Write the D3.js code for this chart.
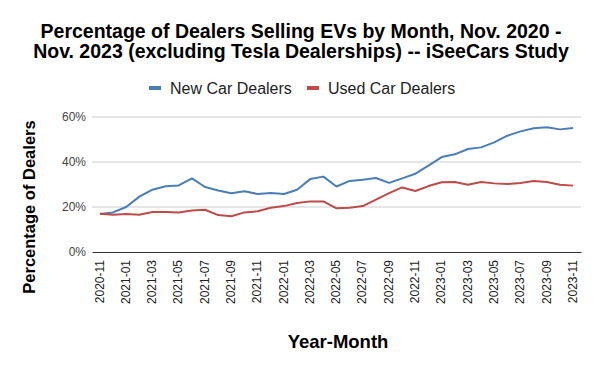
<!DOCTYPE html>
<html>
<head>
<meta charset="utf-8">
<script src="https://cdn.jsdelivr.net/npm/d3@7"></script>
<style>
  body { margin: 0; background: #fff; }
  svg { font-family: "Liberation Sans", Arial, sans-serif; }
</style>
</head>
<body>
<div id="plot"></div>
<script>
// ############ DATA ###############

const months = [
  "2020-11", "2020-12",
  "2021-01", "2021-02", "2021-03", "2021-04", "2021-05", "2021-06",
  "2021-07", "2021-08", "2021-09", "2021-10", "2021-11", "2021-12",
  "2022-01", "2022-02", "2022-03", "2022-04", "2022-05", "2022-06",
  "2022-07", "2022-08", "2022-09", "2022-10", "2022-11", "2022-12",
  "2023-01", "2023-02", "2023-03", "2023-04", "2023-05", "2023-06",
  "2023-07", "2023-08", "2023-09", "2023-10", "2023-11"
];

const newDealers = [
  16.9, 17.6, 20.0, 24.6, 27.7, 29.2, 29.6, 32.7, 28.9, 27.3, 26.1, 27.0,
  25.8, 26.2, 25.8, 27.7, 32.4, 33.5, 29.1, 31.6, 32.1, 32.9, 30.7, 32.7,
  34.8, 38.4, 42.2, 43.4, 45.8, 46.5, 48.7, 51.7, 53.6, 55.0, 55.4, 54.5, 55.1
];

const usedDealers = [
  17.0, 16.6, 16.9, 16.6, 17.8, 17.8, 17.6, 18.4, 18.8, 16.4, 15.9, 17.6,
  18.1, 19.7, 20.4, 21.8, 22.5, 22.5, 19.4, 19.7, 20.4, 23.3, 26.2, 28.7,
  27.1, 29.3, 31.0, 31.1, 29.9, 31.1, 30.5, 30.2, 30.7, 31.6, 31.1, 29.9, 29.5
];

const yTicks = [0, 20, 40, 60];

const seriesNames = ["New Car Dealers", "Used Car Dealers"];
const seriesColors = ["#4a7ebb", "#be4b48"];

// ############ SETUP ###############

const w = 600, h = 371;
const margin = {top: 117, right: 19, bottom: 119, left: 92};
const innerWidth = w - margin.left - margin.right;
const innerHeight = h - margin.top - margin.bottom;

const xScale = d3.scalePoint()
  .domain(months)
  .range([0, innerWidth])
  .padding(0.6);

const yScale = d3.scaleLinear()
  .domain([0, 60])
  .range([innerHeight, 0]);

const svg = d3.select("div#plot")
  .append("svg")
  .attr("width", w)
  .attr("height", h);

// title
svg.append("text")
  .attr("x", 301)
  .attr("text-anchor", "middle")
  .attr("font-size", "19.5px")
  .attr("font-weight", "bold")
  .attr("fill", "#000")
  .selectAll("tspan")
  .data(["Percentage of Dealers Selling EVs by Month, Nov. 2020 -",
         "Nov. 2023 (excluding Tesla Dealerships) -- iSeeCars Study"])
  .enter()
  .append("tspan")
    .attr("x", 301)
    .attr("y", (d, i) => 38 + i * 19.5)
    .text(d => d);

// legend
const legend = svg.append("g").attr("id", "legend");
const legendX = [149, 307];
seriesNames.forEach((name, i) => {
  legend.append("rect")
    .attr("x", legendX[i])
    .attr("y", 86)
    .attr("width", 12)
    .attr("height", 4)
    .attr("fill", seriesColors[i]);
  legend.append("text")
    .attr("x", legendX[i] + 21)
    .attr("y", 94)
    .attr("font-size", "16px")
    .attr("fill", "#222")
    .text(name);
});

// plot area
const plot = svg.append("g")
  .attr("id", "plotarea")
  .attr("transform", `translate(${margin.left}, ${margin.top})`);

// gridlines
plot.append("g")
  .attr("id", "grid")
  .selectAll("line")
  .data(yTicks.filter(d => d > 0))
  .enter()
  .append("line")
    .attr("x1", 0)
    .attr("x2", innerWidth)
    .attr("y1", d => yScale(d))
    .attr("y2", d => yScale(d))
    .attr("stroke", "#ccc")
    .attr("stroke-width", 1);

// y-axis labels
const yAxis = d3.axisLeft(yScale)
  .tickValues(yTicks)
  .tickFormat(d => d + "%")
  .tickSize(0)
  .tickPadding(6);

plot.append("g")
  .attr("id", "yaxis")
  .call(yAxis)
  .call(g => g.select(".domain").remove())
  .call(g => g.selectAll("text")
    .attr("font-size", "12px")
    .attr("font-family", "Liberation Sans, Arial, sans-serif")
    .attr("fill", "#444"));

// x-axis
const xAxis = d3.axisBottom(xScale)
  .tickValues(months.filter((d, i) => i % 2 == 0))
  .tickSize(0)
  .tickPadding(0);

plot.append("g")
  .attr("id", "xaxis")
  .attr("transform", `translate(0, ${innerHeight})`)
  .call(xAxis)
  .call(g => g.select(".domain").attr("stroke", "#333"))
  .call(g => g.selectAll("text")
    .attr("font-size", "12px")
    .attr("font-family", "Liberation Sans, Arial, sans-serif")
    .attr("fill", "#222")
    .attr("text-anchor", "end")
    .attr("dy", "0.35em")
    .attr("transform", "translate(-1, 8) rotate(-90)")
    .attr("x", 0)
    .attr("y", 0));

// lines
const line = d3.line()
  .x((d, i) => xScale(months[i]))
  .y(d => yScale(d));

[newDealers, usedDealers].forEach((series, i) => {
  plot.append("path")
    .datum(series)
    .attr("fill", "none")
    .attr("stroke", seriesColors[i])
    .attr("stroke-width", 2)
    .attr("stroke-linejoin", "round")
    .attr("d", line);
});

// axis titles
svg.append("text")
  .attr("id", "xlab")
  .attr("x", 338)
  .attr("y", 348)
  .attr("text-anchor", "middle")
  .attr("font-size", "18.5px")
  .attr("font-weight", "bold")
  .text("Year-Month");

svg.append("text")
  .attr("id", "ylab")
  .attr("text-anchor", "middle")
  .attr("font-size", "16.5px")
  .attr("font-weight", "bold")
  .attr("transform", "translate(35, 207) rotate(-90)")
  .text("Percentage of Dealers");
</script>
</body>
</html>
